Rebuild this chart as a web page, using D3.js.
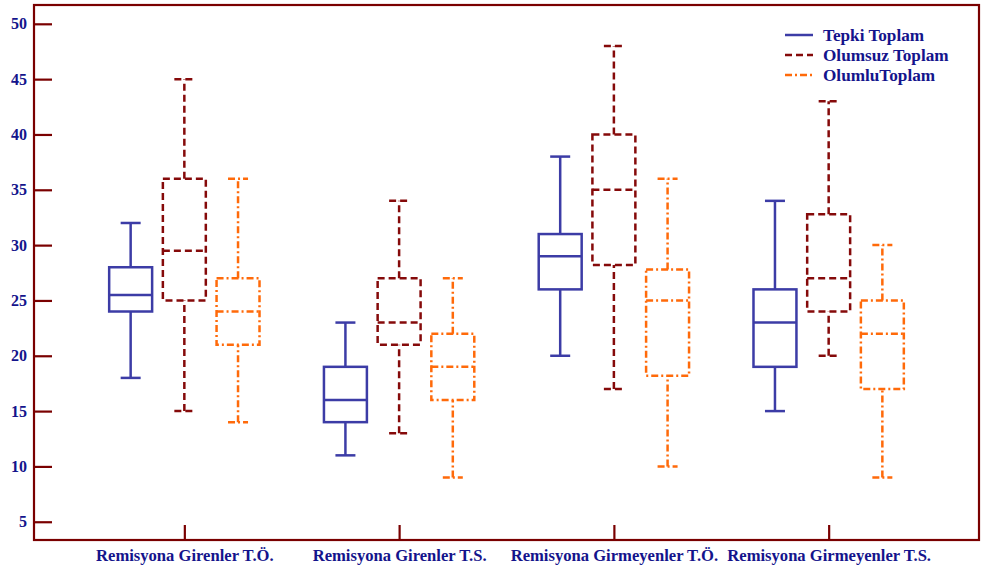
<!DOCTYPE html>
<html>
<head>
<meta charset="utf-8">
<script src="https://cdn.jsdelivr.net/npm/d3@7"></script>
<style>
  body { margin: 0; background: #fff; }
  text { font-family: "Liberation Serif", "Times New Roman", serif; font-weight: bold; fill: #14148c; }
</style>
</head>
<body>
<div id="chart"></div>
<script>
// categories and series
var categories = ["Remisyona Girenler T.Ö.", "Remisyona Girenler T.S.", "Remisyona Girmeyenler T.Ö.", "Remisyona Girmeyenler T.S."];
var seriesNames = ["Tepki Toplam", "Olumsuz Toplam", "OlumluToplam"];
var yTicks = [5, 10, 15, 20, 25, 30, 35, 40, 45, 50];

// [min, q1, median, q3, max] per category
var tepki = [[18, 24, 25.5, 28, 32], [11, 14, 16, 19, 23], [20, 26, 29, 31, 38], [15, 19, 23, 26, 34]];
var olumsuz = [[15, 25, 29.5, 36, 45], [13, 21, 23, 27, 34], [17, 28.2, 35, 40, 48], [20, 24, 27, 32.8, 43]];
var olumlu = [[14, 21, 24, 27, 36], [9, 16, 19, 22, 27], [10, 18.2, 25, 27.8, 36], [9, 17, 22, 25, 30]];

var svgWidth = 985;
var svgHeight = 567;
var margin = { top: 5, right: 6, bottom: 27, left: 34 };
var width = svgWidth - margin.left - margin.right;
var height = svgHeight - margin.top - margin.bottom;

var series = [
  { name: seriesNames[0], data: tepki, color: "#3c3ca6", dash: null, offset: -0.25 },
  { name: seriesNames[1], data: olumsuz, color: "#850a0a", dash: "7,4", offset: 0 },
  { name: seriesNames[2], data: olumlu, color: "#ff6a0a", dash: "7,3,2,3", offset: 0.25 }
];

var svg = d3.select("#chart")
  .append("svg")
  .attr("width", svgWidth)
  .attr("height", svgHeight);

var chart = svg.append("g")
  .attr("transform", "translate(" + margin.left + "," + margin.top + ")");

var x = d3.scaleLinear().domain([0.3, 4.7]).range([0, width]);
var y = d3.scaleLinear().domain([3.35, 51.7]).range([height, 0]);

var boxW = x(1.2) - x(1);
var capW = 20;

// boxes
series.forEach(function(s) {
  var g = chart.append("g");
  s.data.forEach(function(d, i) {
    var cx = x(i + 1 + s.offset);
    var bg = g.append("g")
      .attr("fill", "none")
      .attr("stroke", s.color)
      .attr("stroke-width", 2.5)
      .attr("stroke-dasharray", s.dash);
    // whiskers
    bg.append("line").attr("x1", cx).attr("x2", cx).attr("y1", y(d[0])).attr("y2", y(d[1]));
    bg.append("line").attr("x1", cx).attr("x2", cx).attr("y1", y(d[3])).attr("y2", y(d[4]));
    bg.append("line").attr("x1", cx - capW / 2).attr("x2", cx + capW / 2).attr("y1", y(d[0])).attr("y2", y(d[0]));
    bg.append("line").attr("x1", cx - capW / 2).attr("x2", cx + capW / 2).attr("y1", y(d[4])).attr("y2", y(d[4]));
    // box
    bg.append("rect")
      .attr("x", cx - boxW / 2)
      .attr("y", y(d[3]))
      .attr("width", boxW)
      .attr("height", y(d[1]) - y(d[3]));
    // median
    bg.append("line").attr("x1", cx - boxW / 2).attr("x2", cx + boxW / 2).attr("y1", y(d[2])).attr("y2", y(d[2]));
  });
});

// frame
chart.append("rect")
  .attr("width", width)
  .attr("height", height)
  .attr("fill", "none")
  .attr("stroke", "#7a0000")
  .attr("stroke-width", 2.2);

// y axis with inward ticks
var leftAxis = d3.axisLeft(y).tickValues(yTicks).tickSize(-18).tickPadding(7);
var yAxis = chart.append("g").attr("class", "y-axis").call(leftAxis);
yAxis.select(".domain").remove();
yAxis.selectAll("line").attr("stroke", "#7a0000").attr("stroke-width", 2.2);
yAxis.selectAll("text").style("font-size", "16px").attr("fill", "#14148c");

// x axis with inward ticks
var bottomAxis = d3.axisBottom(x).tickValues([1, 2, 3, 4])
  .tickFormat(function(d) { return categories[d - 1]; })
  .tickSize(-15).tickPadding(9);
var xAxis = chart.append("g")
  .attr("class", "x-axis")
  .attr("transform", "translate(0," + height + ")")
  .call(bottomAxis);
xAxis.select(".domain").remove();
xAxis.selectAll("line").attr("stroke", "#7a0000").attr("stroke-width", 2.2);
xAxis.selectAll("text").style("font-size", "16.6px").attr("fill", "#14148c");

// legend
var legend = svg.append("g").attr("transform", "translate(785,35)");
series.forEach(function(s, i) {
  var row = legend.append("g").attr("transform", "translate(0," + i * 20 + ")");
  row.append("line")
    .attr("x1", 0).attr("x2", 28)
    .attr("stroke", s.color)
    .attr("stroke-width", 2.5)
    .attr("stroke-dasharray", s.dash);
  row.append("text")
    .attr("x", 38)
    .attr("dy", "0.35em")
    .style("font-size", "17.2px")
    .text(s.name);
});
</script>
</body>
</html>
